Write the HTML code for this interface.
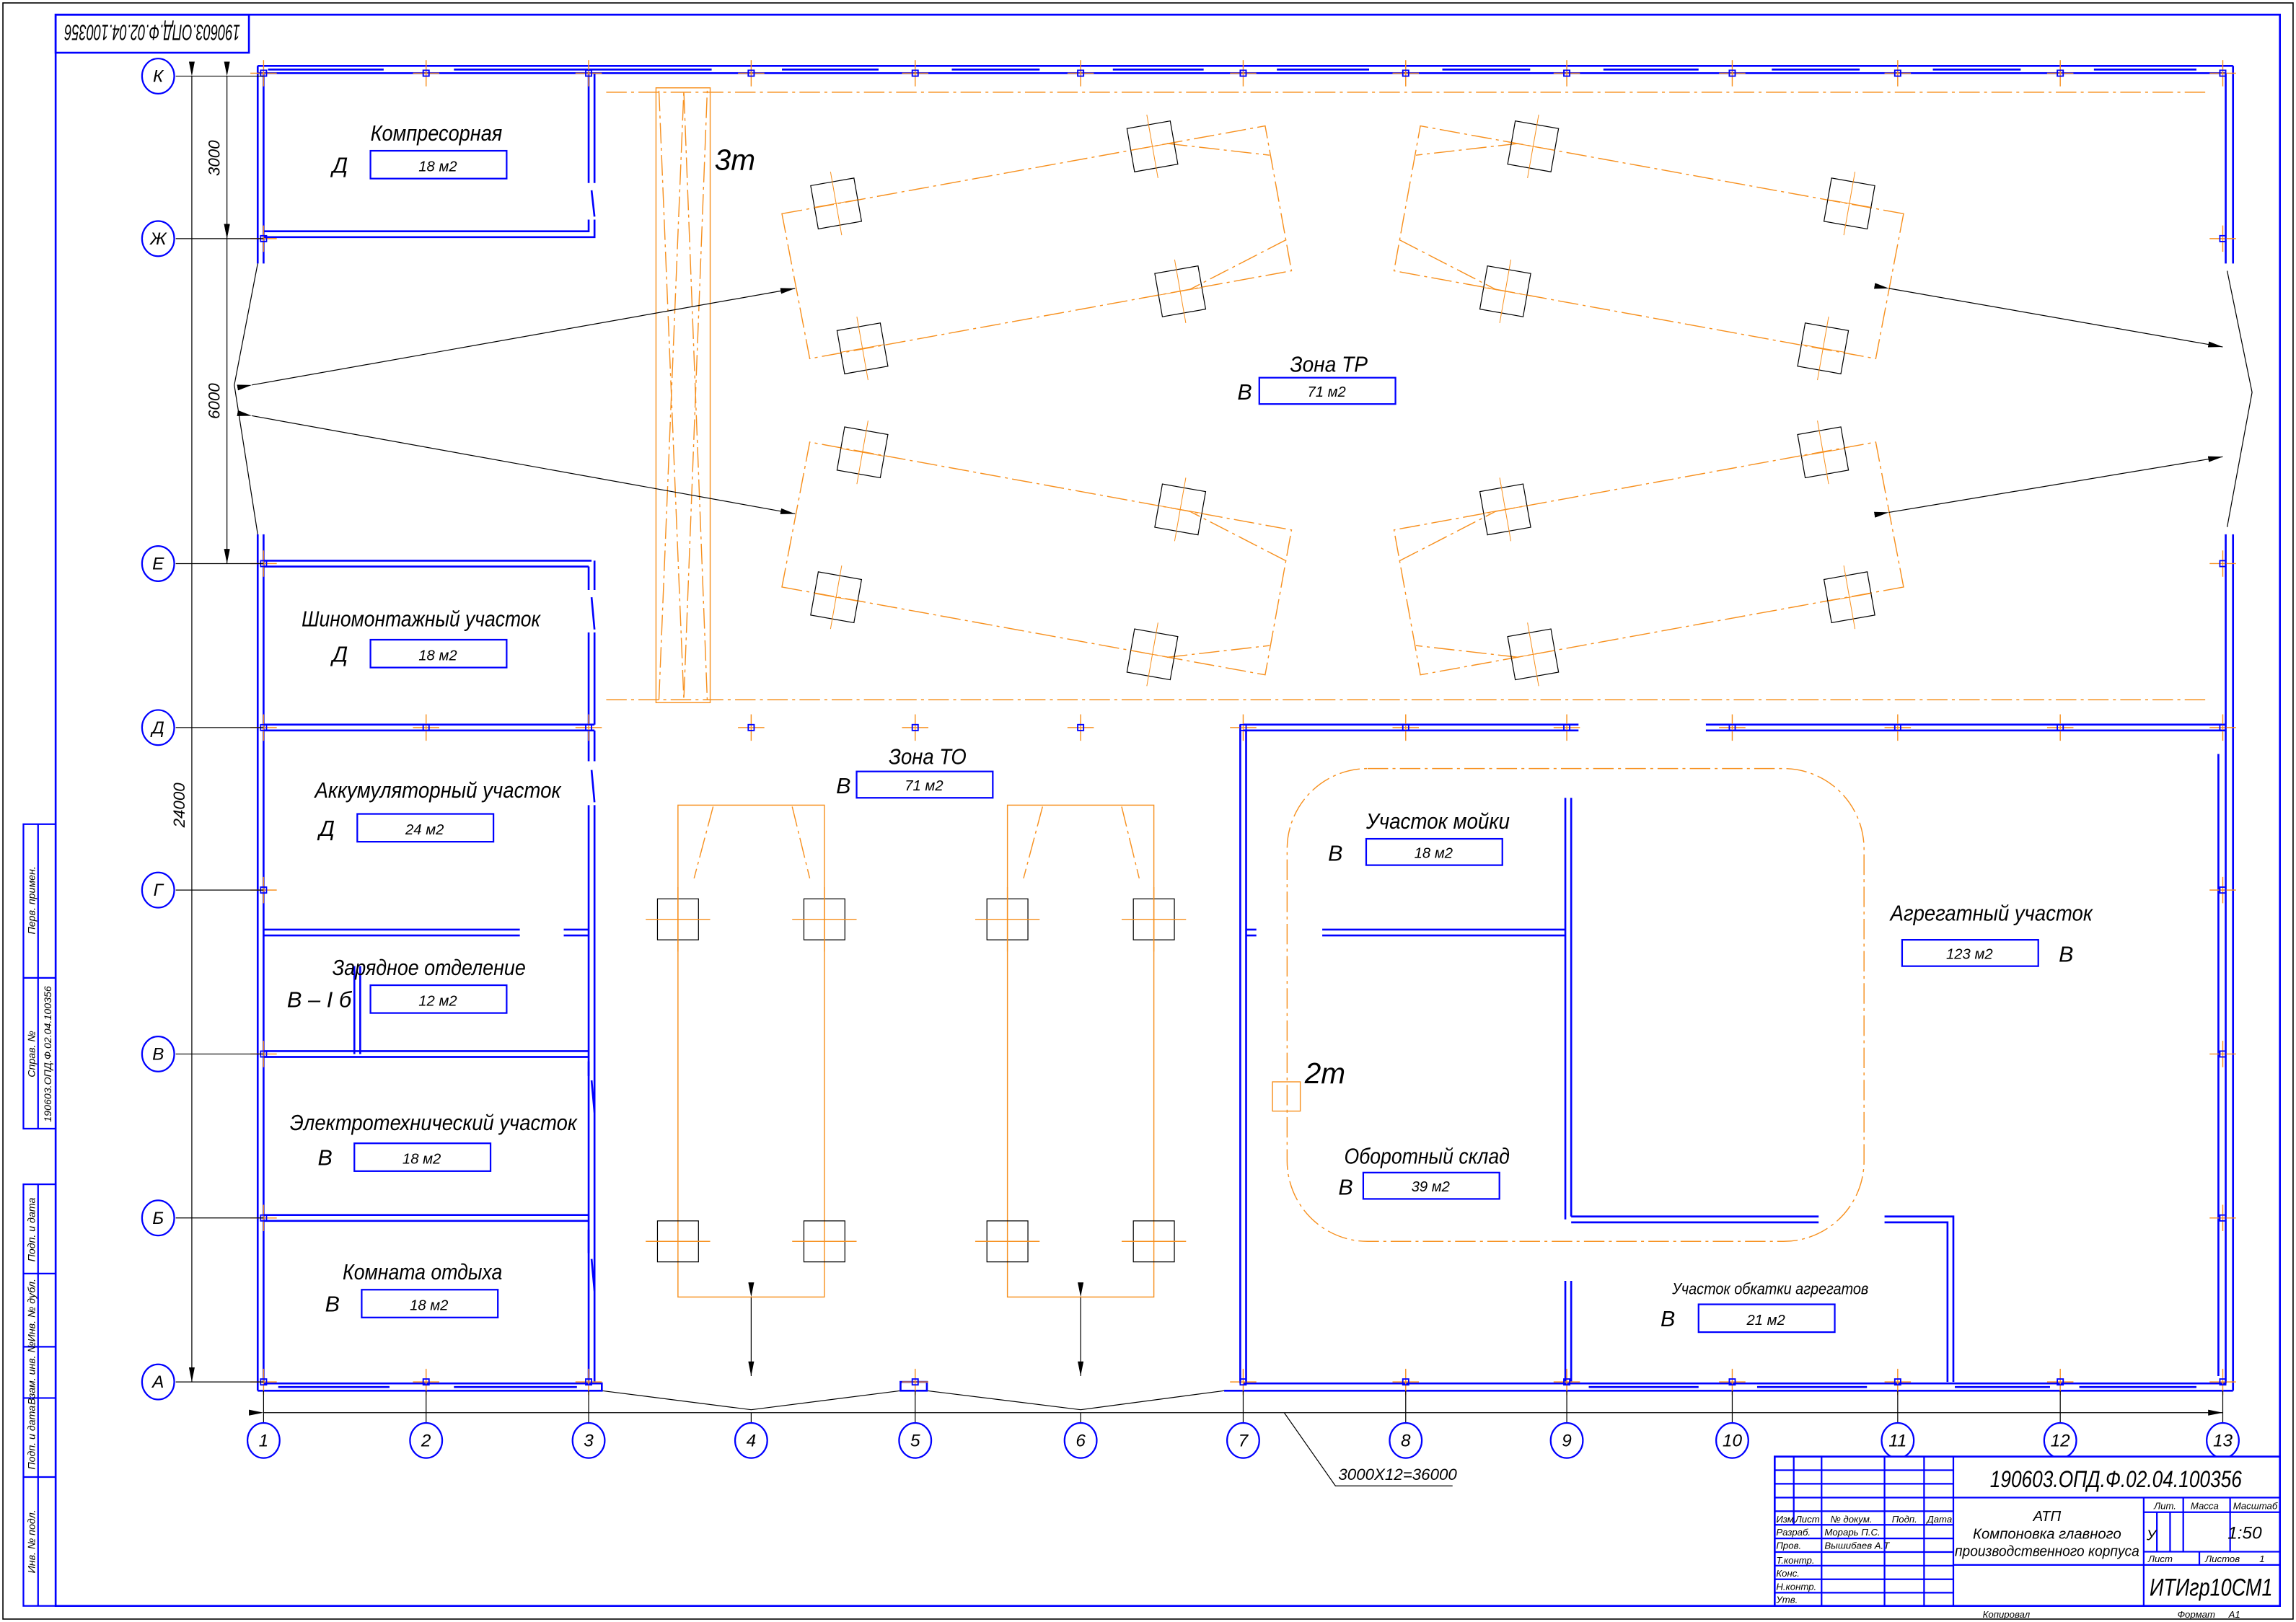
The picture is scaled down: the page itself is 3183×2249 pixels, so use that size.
<!DOCTYPE html>
<html><head><meta charset="utf-8"><style>
html,body{margin:0;padding:0;background:#fff}
svg{display:block}
text{font-family:"Liberation Sans","DejaVu Sans",sans-serif;font-style:italic;fill:#000}
.w{stroke:#0000ff;stroke-width:1.3;fill:none}
.b{stroke:#0000ff;stroke-width:1.1;fill:none}
.o{stroke:#f7901e;stroke-width:0.7;fill:none}
.od{stroke:#f7901e;stroke-width:0.7;fill:none;stroke-dasharray:14 3 2 3}
.k{stroke:#000;stroke-width:0.6;fill:none}
</style></head><body>
<svg width="3183" height="2249" viewBox="0 0 1568 1108" preserveAspectRatio="none" xmlns="http://www.w3.org/2000/svg">
<defs>
<marker id="ar" viewBox="0 0 10 4" refX="10" refY="2" markerWidth="10" markerHeight="4" orient="auto" markerUnits="userSpaceOnUse"><path d="M0,0 L10,2 L0,4z" fill="#000"/></marker>
<g id="cr"><path d="M-9,0H9M0,-9V9" stroke="#f7901e" stroke-width="0.7"/><rect x="-2" y="-2" width="4" height="4" fill="none" stroke="#0000ff" stroke-width="0.9"/></g>
<g id="wh"><rect x="-15" y="-15" width="30" height="30" fill="none" stroke="#000" stroke-width="0.6"/><path d="M0,-22V22M-15,0H15" stroke="#f7901e" stroke-width="0.5"/></g>
<g id="veh">
<polygon class="od" points="534,146 864,86 882,185 553,245"/>
<polyline class="od" points="797,98 867,106"/>
<polyline class="od" points="878,164 812,198"/>
<g transform="translate(571,139) rotate(-10)"><use href="#wh"/></g>
<g transform="translate(787,100) rotate(-10)"><use href="#wh"/></g>
<g transform="translate(806,199) rotate(-10)"><use href="#wh"/></g>
<g transform="translate(589,238) rotate(-10)"><use href="#wh"/></g>
</g>
<g id="veh2">
<rect class="o" x="463" y="550" width="100" height="336"/>
<path class="od" d="M487,551 L474,600 M541,551 L553,600"/>
<rect x="449" y="614" width="28" height="28" fill="none" stroke="#000" stroke-width="0.6"/>
<rect x="549" y="614" width="28" height="28" fill="none" stroke="#000" stroke-width="0.6"/>
<rect x="449" y="834" width="28" height="28" fill="none" stroke="#000" stroke-width="0.6"/>
<rect x="549" y="834" width="28" height="28" fill="none" stroke="#000" stroke-width="0.6"/>
<path class="o" d="M441,628H485M541,628H585M463,606V650M563,606V650M441,848H485M541,848H585"/>
</g>
</defs>

<!-- frames -->
<rect x="2" y="2" width="1564" height="1104" fill="none" stroke="#000" stroke-width="0.8"/>
<rect x="38" y="10" width="1519" height="1087" class="w"/>
<rect x="38" y="10" width="132" height="26" class="w"/>
<text transform="rotate(180 104 23)" x="104" y="29" font-size="15" text-anchor="middle" textLength="120" lengthAdjust="spacingAndGlyphs">190603.ОПД.Ф.02.04.100356</text>

<!-- left strip -->
<g class="b">
<rect x="16" y="563" width="22" height="208"/><line x1="26" y1="563" x2="26" y2="771"/><line x1="16" y1="668" x2="38" y2="668"/>
<rect x="16" y="809" width="22" height="288"/><line x1="26" y1="809" x2="26" y2="1097"/>
<line x1="16" y1="870" x2="38" y2="870"/><line x1="16" y1="920" x2="38" y2="920"/><line x1="16" y1="955" x2="38" y2="955"/><line x1="16" y1="1009" x2="38" y2="1009"/>
</g>
<g font-size="7">
<text transform="rotate(-90 24 615)" x="24" y="615" text-anchor="middle">Перв. примен.</text>
<text transform="rotate(-90 24 720)" x="24" y="720" text-anchor="middle">Справ. №</text>
<text transform="rotate(-90 35 720)" x="35" y="720" text-anchor="middle">190603.ОПД.Ф.02.04.100356</text>
<text transform="rotate(-90 24 840)" x="24" y="840" text-anchor="middle">Подп. и дата</text>
<text transform="rotate(-90 24 895)" x="24" y="895" text-anchor="middle">Инв. № дубл.</text>
<text transform="rotate(-90 24 938)" x="24" y="938" text-anchor="middle">Взам. инв. №</text>
<text transform="rotate(-90 24 982)" x="24" y="982" text-anchor="middle">Подп. и дата</text>
<text transform="rotate(-90 24 1053)" x="24" y="1053" text-anchor="middle">Инв. № подл.</text>
</g>

<!-- crane -->
<rect class="o" x="448" y="60" width="37" height="420"/>
<path class="od" d="M450,62 L467,478 L483,62 M450,478 L467,62 L483,478"/>
<text x="488" y="116" font-size="20">3т</text>
<!-- dash-dot axes -->
<path class="od" d="M414,63H1508M414,478H1508"/>

<!-- vehicles TR -->
<use href="#veh"/>
<use href="#veh" transform="translate(1834,0) scale(-1,1)"/>
<use href="#veh" transform="translate(0,547) scale(1,-1)"/>
<use href="#veh" transform="translate(1834,547) scale(-1,-1)"/>

<!-- arrows -->
<g class="k">
<line x1="172" y1="263" x2="543" y2="197" marker-end="url(#ar)" marker-start="url(#ar)"/>
<line x1="172" y1="284" x2="543" y2="351" marker-end="url(#ar)" marker-start="url(#ar)"/>
<line x1="1290" y1="197" x2="1518" y2="237" marker-end="url(#ar)" marker-start="url(#ar)"/>
<line x1="1290" y1="350" x2="1518" y2="312" marker-end="url(#ar)" marker-start="url(#ar)"/>
<polyline points="176,180 160,263 176,365"/>
<polyline points="1521,185 1538,268 1521,360"/>
<line x1="513" y1="886" x2="513" y2="940" marker-end="url(#ar)" marker-start="url(#ar)"/>
<line x1="738" y1="886" x2="738" y2="940" marker-end="url(#ar)" marker-start="url(#ar)"/>
<polyline points="411,950 513,963 615,950"/>
<polyline points="633,950 738,963 836,950"/>
</g>

<!-- TO vehicles -->
<use href="#veh2"/>
<use href="#veh2" transform="translate(225,0)"/>

<!-- rounded area -->
<rect class="od" x="879" y="525" width="394" height="323" rx="55"/>
<rect class="o" x="869" y="739" width="19" height="20"/>
<text x="891" y="740" font-size="20">2т</text>

<!-- outer walls -->
<g class="w">
<path d="M176,45H1525M176,50H1520"/>
<path d="M183,47.5H262M310,47.5H486M534,47.5H600M650,47.5H710M760,47.5H822M872,47.5H935M985,47.5H1045M1095,47.5H1160M1210,47.5H1270M1320,47.5H1380M1430,47.5H1500"/>
<path d="M176,45V180M180,50V180M176,365V950M180,365V945"/>
<path d="M1525,45V180M1520,50V180M1525,365V950M1520,365V945"/>
<path d="M176,950H411V945H180M836,950H1525M849,945H1520"/>
<path d="M190,947.5H266M310,947.5H394M1085,947.5H1160M1200,947.5H1275M1335,947.5H1400M1420,947.5H1500"/>
<rect x="615" y="944" width="18" height="6"/>
<!-- left rooms -->
<path d="M402,50V125M406,50V125M404,130L406,148M402,150V158H180M406,150V162H180"/>
<path d="M180,383H404M180,387H402"/>
<path d="M402,387V403M406,383V403M404,408L406,430M402,432V495M406,432V495"/>
<path d="M180,495H406M180,499H406"/>
<path d="M402,499V520M406,499V520M404,526L406,548M402,550V944M406,550V944"/>
<path d="M180,635H355M180,639H355M385,635H402M385,639H402"/>
<path d="M242,660V720M246,660V720"/>
<path d="M180,718H402M180,722H402"/>
<path d="M180,830H402M180,834H402"/>
<path d="M402,725V735M404,738L406,760M402,840V856M404,860L406,882"/>
<!-- right zone -->
<path d="M849,495H1078M849,499H1078M1165,495H1520M1165,499H1520"/>
<path d="M847,495V945M851,499V945M851,635H858M851,639H858"/>
<path d="M1069,545V833M1073,545V831"/>
<path d="M903,635H1069M903,639H1069"/>
<path d="M1073,831H1242M1073,835H1242M1287,831H1334V944M1287,835H1330V944"/>
<path d="M1069,875V944M1073,875V944"/>
<path d="M1515,515V940"/>
</g>

<!-- column markers -->
<g>
<use href="#cr" x="180" y="50"/><use href="#cr" x="291" y="50"/><use href="#cr" x="402" y="50"/><use href="#cr" x="513" y="50"/><use href="#cr" x="625" y="50"/><use href="#cr" x="738" y="50"/><use href="#cr" x="849" y="50"/><use href="#cr" x="960" y="50"/><use href="#cr" x="1070" y="50"/><use href="#cr" x="1183" y="50"/><use href="#cr" x="1296" y="50"/><use href="#cr" x="1407" y="50"/><use href="#cr" x="1518" y="50"/>
<use href="#cr" x="180" y="944"/><use href="#cr" x="291" y="944"/><use href="#cr" x="402" y="944"/><use href="#cr" x="625" y="944"/><use href="#cr" x="849" y="944"/><use href="#cr" x="960" y="944"/><use href="#cr" x="1070" y="944"/><use href="#cr" x="1183" y="944"/><use href="#cr" x="1296" y="944"/><use href="#cr" x="1407" y="944"/><use href="#cr" x="1518" y="944"/>
<use href="#cr" x="180" y="497"/><use href="#cr" x="291" y="497"/><use href="#cr" x="402" y="497"/><use href="#cr" x="513" y="497"/><use href="#cr" x="625" y="497"/><use href="#cr" x="738" y="497"/><use href="#cr" x="849" y="497"/><use href="#cr" x="960" y="497"/><use href="#cr" x="1070" y="497"/><use href="#cr" x="1183" y="497"/><use href="#cr" x="1296" y="497"/><use href="#cr" x="1407" y="497"/><use href="#cr" x="1518" y="497"/>
<use href="#cr" x="180" y="163"/><use href="#cr" x="180" y="385"/><use href="#cr" x="180" y="608"/><use href="#cr" x="180" y="720"/><use href="#cr" x="180" y="832"/>
<use href="#cr" x="1518" y="163"/><use href="#cr" x="1518" y="385"/><use href="#cr" x="1518" y="608"/><use href="#cr" x="1518" y="720"/><use href="#cr" x="1518" y="832"/>
</g>

<!-- axes -->
<g class="k">
<path d="M120,52H180M120,163H180M120,385H180M120,497H180M120,608H180M120,720H180M120,832H180M120,944H180"/>
<line x1="131" y1="52" x2="131" y2="944" marker-start="url(#ar)" marker-end="url(#ar)"/>
<line x1="155" y1="52" x2="155" y2="163" marker-start="url(#ar)" marker-end="url(#ar)"/>
<line x1="155" y1="163" x2="155" y2="385" marker-start="url(#ar)" marker-end="url(#ar)"/>
<path d="M180,950V972M291,950V972M402,950V972M513,965V972M625,950V972M738,965V972M849,950V972M960,950V972M1070,950V972M1183,950V972M1296,950V972M1407,950V972M1518,950V972"/>
<line x1="180" y1="965" x2="1518" y2="965" marker-start="url(#ar)" marker-end="url(#ar)"/>
<polyline points="877,965 912,1015 992,1015"/>
</g>
<text transform="rotate(-90 150 108)" x="150" y="108" font-size="11" text-anchor="middle">3000</text>
<text transform="rotate(-90 150 274)" x="150" y="274" font-size="11" text-anchor="middle">6000</text>
<text transform="rotate(-90 126 550)" x="126" y="550" font-size="11" text-anchor="middle">24000</text>
<text x="914" y="1011" font-size="11">3000Х12=36000</text>

<g class="b" stroke-width="1">
<ellipse cx="108" cy="52" rx="11" ry="12"/><ellipse cx="108" cy="163" rx="11" ry="12"/><ellipse cx="108" cy="385" rx="11" ry="12"/><ellipse cx="108" cy="497" rx="11" ry="12"/><ellipse cx="108" cy="608" rx="11" ry="12"/><ellipse cx="108" cy="720" rx="11" ry="12"/><ellipse cx="108" cy="832" rx="11" ry="12"/><ellipse cx="108" cy="944" rx="11" ry="12"/>
<ellipse cx="180" cy="984" rx="11" ry="12"/><ellipse cx="291" cy="984" rx="11" ry="12"/><ellipse cx="402" cy="984" rx="11" ry="12"/><ellipse cx="513" cy="984" rx="11" ry="12"/><ellipse cx="625" cy="984" rx="11" ry="12"/><ellipse cx="738" cy="984" rx="11" ry="12"/><ellipse cx="849" cy="984" rx="11" ry="12"/><ellipse cx="960" cy="984" rx="11" ry="12"/><ellipse cx="1070" cy="984" rx="11" ry="12"/><ellipse cx="1183" cy="984" rx="11" ry="12"/><ellipse cx="1296" cy="984" rx="11" ry="12"/><ellipse cx="1407" cy="984" rx="11" ry="12"/><ellipse cx="1518" cy="984" rx="11" ry="12"/>
</g>
<g font-size="12" text-anchor="middle">
<text x="108" y="56">К</text><text x="108" y="167">Ж</text><text x="108" y="389">Е</text><text x="108" y="501">Д</text><text x="108" y="612">Г</text><text x="108" y="724">В</text><text x="108" y="836">Б</text><text x="108" y="948">А</text>
<text x="180" y="988">1</text><text x="291" y="988">2</text><text x="402" y="988">3</text><text x="513" y="988">4</text><text x="625" y="988">5</text><text x="738" y="988">6</text><text x="849" y="988">7</text><text x="960" y="988">8</text><text x="1070" y="988">9</text><text x="1183" y="988">10</text><text x="1296" y="988">11</text><text x="1407" y="988">12</text><text x="1518" y="988">13</text>
</g>

<!-- room labels -->
<g class="b">
<rect x="253" y="103" width="93" height="19"/>
<rect x="253" y="437" width="93" height="19"/>
<rect x="244" y="556" width="93" height="19"/>
<rect x="253" y="673" width="93" height="19"/>
<rect x="242" y="781" width="93" height="19"/>
<rect x="247" y="881" width="93" height="19"/>
<rect x="860" y="258" width="93" height="18"/>
<rect x="585" y="527" width="93" height="18"/>
<rect x="933" y="573" width="93" height="18"/>
<rect x="931" y="801" width="93" height="18"/>
<rect x="1299" y="642" width="93" height="18"/>
<rect x="1160" y="891" width="93" height="19"/>
</g>
<g font-size="15">
<text x="253" y="96" textLength="90" lengthAdjust="spacingAndGlyphs">Компресорная</text>
<text x="206" y="428" textLength="163" lengthAdjust="spacingAndGlyphs">Шиномонтажный участок</text>
<text x="215" y="545" textLength="168" lengthAdjust="spacingAndGlyphs">Аккумуляторный участок</text>
<text x="227" y="666" textLength="132" lengthAdjust="spacingAndGlyphs">Зарядное отделение</text>
<text x="198" y="772" textLength="196" lengthAdjust="spacingAndGlyphs">Электротехнический участок</text>
<text x="234" y="874" textLength="109" lengthAdjust="spacingAndGlyphs">Комната отдыха</text>
<text x="881" y="254" textLength="53" lengthAdjust="spacingAndGlyphs">Зона ТР</text>
<text x="607" y="522" textLength="53" lengthAdjust="spacingAndGlyphs">Зона ТО</text>
<text x="933" y="566" textLength="98" lengthAdjust="spacingAndGlyphs">Участок мойки</text>
<text x="918" y="795" textLength="113" lengthAdjust="spacingAndGlyphs">Оборотный склад</text>
<text x="1291" y="629" textLength="138" lengthAdjust="spacingAndGlyphs">Агрегатный участок</text>
<text x="1142" y="884" font-size="11" textLength="134" lengthAdjust="spacingAndGlyphs">Участок обкатки агрегатов</text>
<text x="227" y="118">Д</text><text x="227" y="452">Д</text><text x="218" y="571">Д</text>
<text x="196" y="688" textLength="44" lengthAdjust="spacingAndGlyphs">В – I б</text>
<text x="217" y="796">В</text><text x="222" y="896">В</text>
<text x="845" y="273">В</text><text x="571" y="542">В</text><text x="907" y="588">В</text><text x="914" y="816">В</text><text x="1406" y="657">В</text><text x="1134" y="906">В</text>
</g>
<g font-size="10" text-anchor="middle">
<text x="299" y="117">18 м2</text><text x="299" y="451">18 м2</text><text x="290" y="570">24 м2</text><text x="299" y="687">12 м2</text><text x="288" y="795">18 м2</text><text x="293" y="895">18 м2</text>
<text x="906" y="271">71 м2</text><text x="631" y="540">71 м2</text><text x="979" y="586">18 м2</text><text x="977" y="814">39 м2</text><text x="1345" y="655">123 м2</text><text x="1206" y="905">21 м2</text>
</g>

<!-- title block -->
<rect x="1212" y="995" width="345" height="102" fill="#fff" stroke="#0000ff" stroke-width="1.3"/>
<g class="b">
<path d="M1212,1004.3H1334M1212,1013.6H1334M1212,1023H1334M1212,1032.3H1334M1212,1041.6H1334M1212,1050.9H1334M1212,1060.2H1334M1212,1069.5H1334M1212,1078.8H1334M1212,1088H1334"/>
<path d="M1225,995V1041.6M1244,995V1097M1287,995V1097M1314,995V1097M1334,995V1097"/>
<path d="M1334,1023H1557M1334,1069H1557M1464,1023V1097M1464,1033H1557M1464,1060H1557M1491,1023V1060M1523,1023V1060M1473,1033V1060M1482,1033V1060M1502,1060V1069"/>
</g>
<text x="1445" y="1016" font-size="16" text-anchor="middle" textLength="172" lengthAdjust="spacingAndGlyphs">190603.ОПД.Ф.02.04.100356</text>
<g font-size="10" text-anchor="middle">
<text x="1398" y="1039">АТП</text>
<text x="1398" y="1051">Компоновка главного</text>
<text x="1398" y="1063" textLength="126" lengthAdjust="spacingAndGlyphs">производственного корпуса</text>
<text x="1533" y="1051" font-size="12">1:50</text>
<text x="1510" y="1090" font-size="17" textLength="84" lengthAdjust="spacingAndGlyphs">ИТИгр10СМ1</text>
</g>
<g font-size="6.5">
<text x="1471" y="1031">Лит.</text><text x="1496" y="1031">Масса</text><text x="1525" y="1031">Масштаб</text>
<text x="1466" y="1052" font-size="10">У</text>
<text x="1467" y="1067">Лист</text><text x="1506" y="1067">Листов</text><text x="1543" y="1067">1</text>
<text x="1213" y="1040">Изм.</text><text x="1226" y="1040">Лист</text><text x="1250" y="1040">№ докум.</text><text x="1292" y="1040">Подп.</text><text x="1316" y="1040">Дата</text>
<text x="1213" y="1049">Разраб.</text><text x="1246" y="1049">Морарь П.С.</text>
<text x="1213" y="1058">Пров.</text><text x="1246" y="1058">Вышибаев А.Т</text>
<text x="1213" y="1068">Т.контр.</text>
<text x="1213" y="1077">Конс.</text>
<text x="1213" y="1086">Н.контр.</text>
<text x="1213" y="1095">Утв.</text>
<text x="1354" y="1105">Копировал</text><text x="1487" y="1105">Формат</text><text x="1522" y="1105">А1</text>
</g>
</svg>
</body></html>
